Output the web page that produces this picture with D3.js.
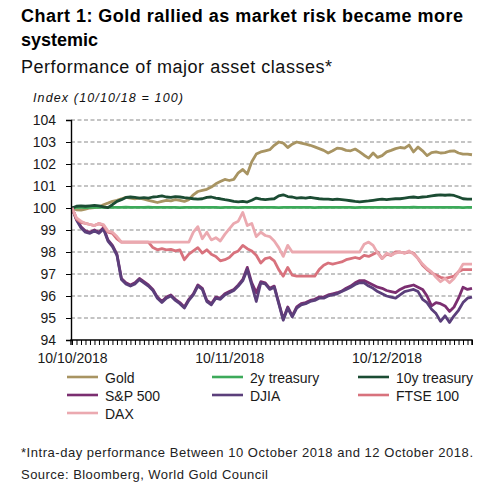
<!DOCTYPE html>
<html>
<head>
<meta charset="utf-8">
<script src="https://cdn.jsdelivr.net/npm/d3@7/dist/d3.min.js"></script>
<style>
  html, body { margin: 0; padding: 0; background: #fff; }
  svg { display: block; font-family: "Liberation Sans", Arial, Helvetica, sans-serif; }
</style>
</head>
<body>
<svg id="chart" width="491" height="488"></svg>
<script>
// ---- Data (index 10/10/18 = 100), intra-day observations ----
const xTickLabels = ["10/10/2018", "10/11/2018", "10/12/2018"];
const xLabelIdx = [0, 35, 70];
const yTicks = [94, 95, 96, 97, 98, 99, 100, 101, 102, 103, 104];

const gold = [100.0,99.92,99.9,99.95,100.0,100.02,100.05,100.15,100.22,100.3,
  100.35,100.42,100.48,100.45,100.42,100.45,100.4,100.35,100.3,100.25,
  100.3,100.35,100.32,100.38,100.35,100.3,100.38,100.6,100.75,100.8,
  100.85,100.95,101.1,101.2,101.3,101.25,101.3,101.6,101.75,101.55,
  102.1,102.45,102.55,102.6,102.65,102.85,103.0,102.95,102.75,102.9,
  103.0,102.95,102.9,102.85,102.78,102.7,102.62,102.5,102.6,102.72,
  102.7,102.62,102.6,102.68,102.55,102.4,102.27,102.5,102.3,102.38,
  102.55,102.62,102.7,102.75,102.72,102.86,102.55,102.77,102.6,102.38,
  102.52,102.55,102.5,102.52,102.58,102.6,102.5,102.45,102.45,102.42];

const treasury2y = [100.0,100.03,100.03,100.02,100.03,100.03,100.04,100.03,100.03,100.03,
  100.03,100.03,100.04,100.03,100.03,100.03,100.03,100.04,100.03,100.03,
  100.03,100.03,100.03,100.03,100.02,100.03,100.03,100.03,100.03,100.03,
  100.03,100.03,100.03,100.02,100.03,100.03,100.03,100.02,100.03,100.03,
  100.03,100.03,100.03,100.03,100.03,100.03,100.02,100.03,100.03,100.03,
  100.03,100.03,100.03,100.03,100.02,100.03,100.03,100.03,100.03,100.03,
  100.03,100.03,100.03,100.02,100.03,100.03,100.03,100.03,100.03,100.03,
  100.03,100.03,100.03,100.03,100.03,100.03,100.04,100.03,100.03,100.03,
  100.03,100.03,100.03,100.03,100.03,100.03,100.03,100.02,100.03,100.03];

const treasury10y = [100.0,100.08,100.1,100.08,100.1,100.12,100.1,100.05,100.02,100.15,
  100.3,100.38,100.48,100.5,100.48,100.45,100.47,100.45,100.5,100.52,
  100.55,100.5,100.48,100.52,100.5,100.47,100.45,100.42,100.4,100.42,
  100.48,100.5,100.45,100.42,100.38,100.35,100.3,100.28,100.3,100.27,
  100.35,100.45,100.4,100.38,100.4,100.42,100.55,100.6,100.52,100.5,
  100.45,100.47,100.45,100.48,100.45,100.42,100.4,100.4,100.38,100.4,
  100.38,100.36,100.33,100.3,100.28,100.3,100.32,100.35,100.38,100.4,
  100.38,100.4,100.42,100.42,100.45,100.48,100.5,100.47,100.5,100.52,
  100.55,100.58,100.6,100.58,100.6,100.57,100.5,100.42,100.4,100.4];

const sp500 = [100.0,99.5,99.15,98.95,98.9,99.0,98.9,99.1,98.55,98.3,
  97.9,96.8,96.6,96.5,96.6,96.8,96.65,96.5,96.3,95.95,
  95.75,95.95,96.05,95.85,95.7,95.5,95.85,96.1,96.5,96.35,
  95.8,95.65,95.95,95.9,96.1,96.2,96.3,96.5,96.75,97.3,
  96.6,96.15,96.65,96.6,96.35,96.45,95.7,94.95,95.5,95.1,
  95.5,95.65,95.7,95.8,95.85,95.95,95.95,96.05,96.1,96.15,
  96.22,96.35,96.45,96.6,96.7,96.7,96.6,96.5,96.4,96.35,
  96.25,96.2,96.15,96.3,96.4,96.45,96.5,96.4,96.3,96.0,
  95.55,95.7,95.65,95.55,95.3,95.5,95.9,96.4,96.3,96.35];

const djia = [100.0,99.45,99.1,98.9,98.85,98.95,98.85,99.05,98.5,98.25,
  97.85,96.75,96.55,96.45,96.55,96.75,96.6,96.45,96.25,95.9,
  95.7,95.9,96.0,95.8,95.65,95.45,95.8,96.05,96.45,96.3,
  95.75,95.6,95.9,95.85,96.05,96.15,96.25,96.45,96.7,97.2,
  96.5,95.75,96.6,96.55,96.3,96.4,95.65,94.9,95.45,95.05,
  95.45,95.6,95.65,95.75,95.8,95.9,95.9,96.0,96.05,96.1,
  96.2,96.3,96.4,96.52,96.6,96.6,96.45,96.35,96.2,96.1,
  96.0,95.95,95.9,96.05,96.2,96.25,96.3,96.2,95.85,95.7,
  95.4,95.2,94.85,95.1,94.8,95.1,95.35,95.7,95.9,95.95];

const ftse100 = [100.0,99.5,99.35,99.3,99.25,99.2,99.3,99.2,98.9,98.85,
  98.6,98.45,98.45,98.45,98.45,98.45,98.45,98.45,98.2,98.1,
  98.15,98.1,98.12,98.05,98.1,97.65,97.9,98.05,98.2,97.95,
  98.1,97.9,97.8,97.6,97.65,97.75,97.95,98.05,98.3,98.15,
  98.05,97.85,97.5,97.7,97.75,97.6,97.2,96.9,97.3,96.95,
  96.9,96.9,96.9,96.9,96.9,97.2,97.4,97.5,97.45,97.5,
  97.55,97.65,97.7,97.75,97.7,97.85,97.8,97.9,98.0,97.7,
  97.9,97.85,98.0,98.0,97.95,98.0,97.95,97.7,97.4,97.2,
  97.05,96.95,96.85,96.8,96.85,96.9,97.1,97.2,97.2,97.2];

const dax = [100.0,99.55,99.4,99.3,99.25,99.2,99.3,99.25,98.95,98.9,
  98.7,98.45,98.45,98.45,98.45,98.45,98.45,98.45,98.45,98.45,
  98.45,98.45,98.45,98.45,98.45,98.45,98.45,98.9,99.15,98.6,
  98.9,98.55,98.65,98.5,98.8,99.05,99.3,99.4,99.8,99.2,
  99.3,98.7,98.9,98.75,98.7,98.5,98.2,97.8,98.3,98.0,
  98.0,98.0,98.0,98.0,98.0,98.0,98.0,98.0,98.0,98.0,
  98.0,98.0,98.0,98.0,98.0,98.35,98.45,98.3,97.95,97.7,
  97.95,97.85,97.95,98.0,97.95,98.05,97.9,97.7,97.45,97.25,
  97.1,96.85,96.65,96.8,96.6,96.8,97.1,97.45,97.45,97.45];

const seriesNames = ["Gold", "2y treasury", "10y treasury", "S&P 500", "DJIA", "FTSE 100", "DAX"];
const seriesValues = [gold, treasury2y, treasury10y, sp500, djia, ftse100, dax];
const seriesColors = ["#A89462", "#3DAA5A", "#1B4C33", "#7B2E70", "#5B3F7B", "#D8727D", "#EBA9B0"];

// ---- Layout ----
const svg = d3.select("#chart");
const L = 71, R = 472, T = 120, B = 340;
const nPts = gold.length;

const x = d3.scaleLinear().domain([0, nPts - 1]).range([72, R]);
const y = d3.scaleLinear().domain([94, 104]).range([B, T]);

// Titles
svg.append("text").attr("x", 21).attr("y", 21.5)
  .attr("font-size", 18).attr("font-weight", "bold").attr("fill", "#000")
  .attr("textLength", 442)
  .text("Chart 1: Gold rallied as market risk became more");
svg.append("text").attr("x", 21).attr("y", 45.5)
  .attr("font-size", 18).attr("font-weight", "bold").attr("fill", "#000")
  .text("systemic");
svg.append("text").attr("x", 21).attr("y", 72.5)
  .attr("font-size", 18).attr("fill", "#111")
  .attr("textLength", 311)
  .text("Performance of major asset classes*");
svg.append("text").attr("x", 33).attr("y", 101.5)
  .attr("font-size", 12.5).attr("font-style", "italic").attr("fill", "#111")
  .attr("textLength", 150)
  .text("Index (10/10/18 = 100)");

// Gridlines
svg.append("g").selectAll("line").data(yTicks.filter(v => v > 94)).join("line")
  .attr("x1", L).attr("x2", R)
  .attr("y1", d => y(d)).attr("y2", d => y(d))
  .attr("stroke", "#8a8a8a").attr("stroke-width", 1.2)
  .attr("stroke-dasharray", "4,2.5");

// Lines
const line = d3.line().x((d, i) => x(i)).y(d => y(d));
const gLines = svg.append("g");
seriesValues.forEach((vals, k) => {
  gLines.append("path").datum(vals)
    .attr("d", line)
    .attr("fill", "none")
    .attr("stroke", seriesColors[k])
    .attr("stroke-width", 2.8)
    .attr("stroke-linejoin", "round");
});

// Y axis
const yAxis = d3.axisLeft(y).tickValues(yTicks).tickSize(5).tickPadding(10)
  .tickFormat(d3.format("d"));
const gy = svg.append("g").attr("transform", `translate(${L},0)`).call(yAxis);
gy.select(".domain").attr("stroke", "#000").attr("stroke-width", 1.4);
gy.selectAll(".tick line").attr("stroke", "#000");
gy.selectAll("text").attr("font-size", 14).attr("fill", "#1a1a1a")
  .attr("font-family", "Liberation Sans, Arial, sans-serif");

// X axis
const xAxis = d3.axisBottom(x).tickValues(d3.range(0, nPts)).tickSize(5).tickPadding(8)
  .tickFormat(d => { const j = xLabelIdx.indexOf(d); return j >= 0 ? xTickLabels[j] : ""; });
const gx = svg.append("g").attr("transform", `translate(0,${B})`).call(xAxis);
gx.select(".domain").attr("stroke", "#000").attr("stroke-width", 1.4)
  .attr("d", `M${L},5V0H${R}V5`);
gx.selectAll(".tick line").attr("stroke", "#000");
gx.selectAll("text").attr("font-size", 14).attr("fill", "#1a1a1a")
  .attr("font-family", "Liberation Sans, Arial, sans-serif");

// Legend
const legCols = [67, 212, 358];
const legRows = [377, 395, 413];
const gLeg = svg.append("g");
seriesNames.forEach((name, k) => {
  const cx = legCols[k % 3], cy = legRows[Math.floor(k / 3)];
  gLeg.append("line").attr("x1", cx).attr("x2", cx + 31)
    .attr("y1", cy).attr("y2", cy)
    .attr("stroke", seriesColors[k]).attr("stroke-width", 2.6);
  gLeg.append("text").attr("x", cx + 38).attr("y", cy + 5.5)
    .attr("font-size", 14).attr("fill", "#1a1a1a").text(name);
});

// Footnotes
svg.append("text").attr("x", 21).attr("y", 456.5)
  .attr("font-size", 13).attr("fill", "#222")
  .attr("textLength", 452)
  .text("*Intra-day performance Between 10 October 2018 and 12 October 2018.");
svg.append("text").attr("x", 21).attr("y", 479)
  .attr("font-size", 13).attr("fill", "#222")
  .attr("textLength", 247)
  .text("Source: Bloomberg, World Gold Council");
</script>
</body>
</html>
